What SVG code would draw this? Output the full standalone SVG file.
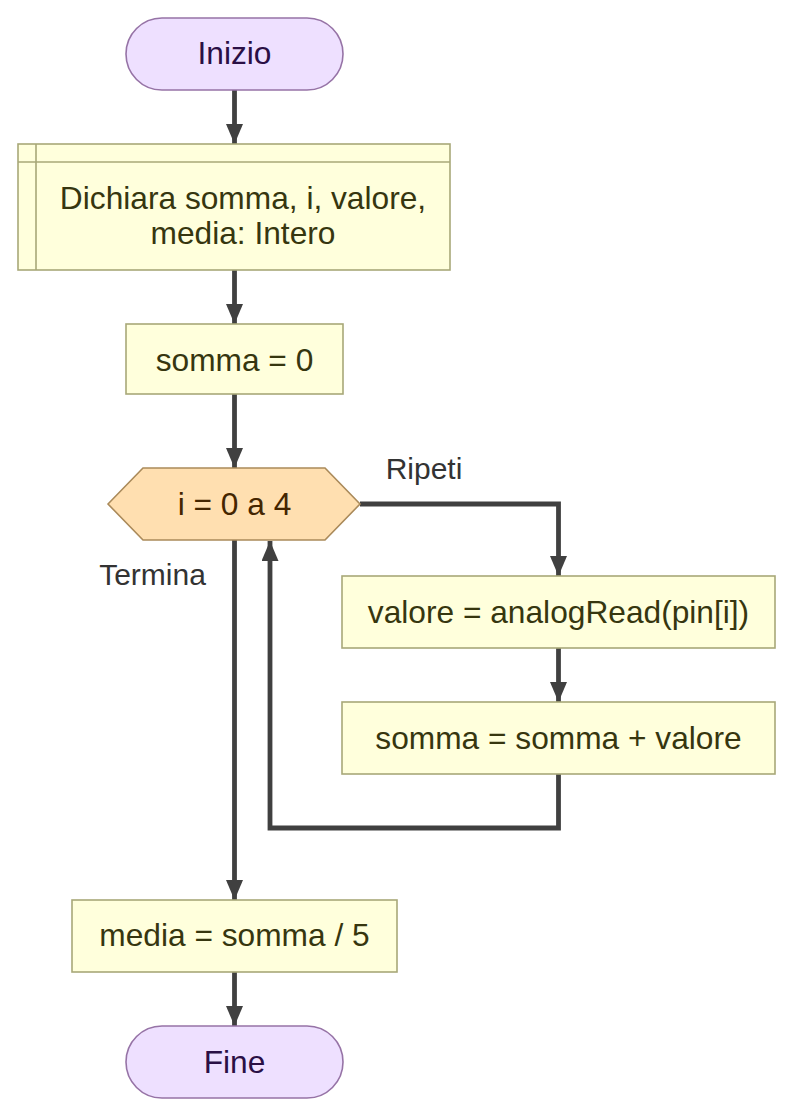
<svg xmlns="http://www.w3.org/2000/svg" width="793" height="1117" viewBox="0 0 793 1117">
<style>
.term{fill:#eee0ff;stroke:#9673a6;stroke-width:1.6}
.proc{fill:#ffffdc;stroke:#a8a878;stroke-width:1.6}
.loop{fill:#ffdfb0;stroke:#aa8a5a;stroke-width:1.6}
.t{font-family:"Liberation Sans",Arial,sans-serif;font-size:31.7px;text-anchor:middle}
.tp{fill:#2a0f45}
.ty{fill:#36360f}
.th{fill:#442500}
.lbl{font-family:"Liberation Sans",Arial,sans-serif;font-size:30px;fill:#333;text-anchor:middle}
.edge{fill:none;stroke:#404040;stroke-width:4.8}
</style>
<defs>
<marker id="ah" markerUnits="userSpaceOnUse" viewBox="0 0 20 17" refX="20" refY="8.5" markerWidth="20" markerHeight="17" orient="auto">
<path d="M0,0 L20,8.5 L0,17 z" fill="#404040"/>
</marker>
</defs>
<g id="connectors">
<path class="edge" d="M234.5,90 V144" marker-end="url(#ah)"/>
<path class="edge" d="M234.5,270 V324" marker-end="url(#ah)"/>
<path class="edge" d="M234.5,394 V468" marker-end="url(#ah)"/>
<path class="edge" d="M360,504 H558.5 V576" marker-end="url(#ah)"/>
<path class="edge" d="M558.5,648 V702" marker-end="url(#ah)"/>
<path class="edge" d="M558.5,774 V828 H270 V541" marker-end="url(#ah)"/>
<path class="edge" d="M234.5,540 V900" marker-end="url(#ah)"/>
<path class="edge" d="M234.5,972 V1026" marker-end="url(#ah)"/>
<text class="lbl" x="424" y="479">Ripeti</text>
<text class="lbl" x="152.5" y="585">Termina</text>
</g>
<g id="start">
<rect class="term" x="126" y="18" width="217" height="72" rx="36" ry="36"/>
<text class="t tp" x="234.5" y="64">Inizio</text>
</g>
<g id="declare">
<rect class="proc" x="18" y="144" width="432" height="126"/>
<line x1="36" y1="144" x2="36" y2="270" stroke="#a8a878" stroke-width="1.6"/>
<line x1="18" y1="162" x2="450" y2="162" stroke="#a8a878" stroke-width="1.6"/>
<text class="t ty" x="243" y="208.5">Dichiara somma, i, valore,</text>
<text class="t ty" x="243" y="243.5">media: Intero</text>
</g>
<g id="init">
<rect class="proc" x="126" y="324" width="217" height="70"/>
<text class="t ty" x="234.5" y="370.5">somma = 0</text>
</g>
<g id="loop">
<polygon class="loop" points="108,504 143,468 325,468 360,504 325,540 143,540"/>
<text class="t th" x="234.5" y="515">i = 0 a 4</text>
</g>
<g id="read">
<rect class="proc" x="342" y="576" width="433" height="72"/>
<text class="t ty" x="558.5" y="622.5">valore = analogRead(pin[i])</text>
</g>
<g id="sum">
<rect class="proc" x="342" y="702" width="433" height="72"/>
<text class="t ty" x="558.5" y="748.5">somma = somma + valore</text>
</g>
<g id="avg">
<rect class="proc" x="72" y="900" width="325" height="72"/>
<text class="t ty" x="234.5" y="946">media = somma / 5</text>
</g>
<g id="end">
<rect class="term" x="126" y="1026" width="217" height="72" rx="36" ry="36"/>
<text class="t tp" x="234.5" y="1072.5">Fine</text>
</g>
</svg>
